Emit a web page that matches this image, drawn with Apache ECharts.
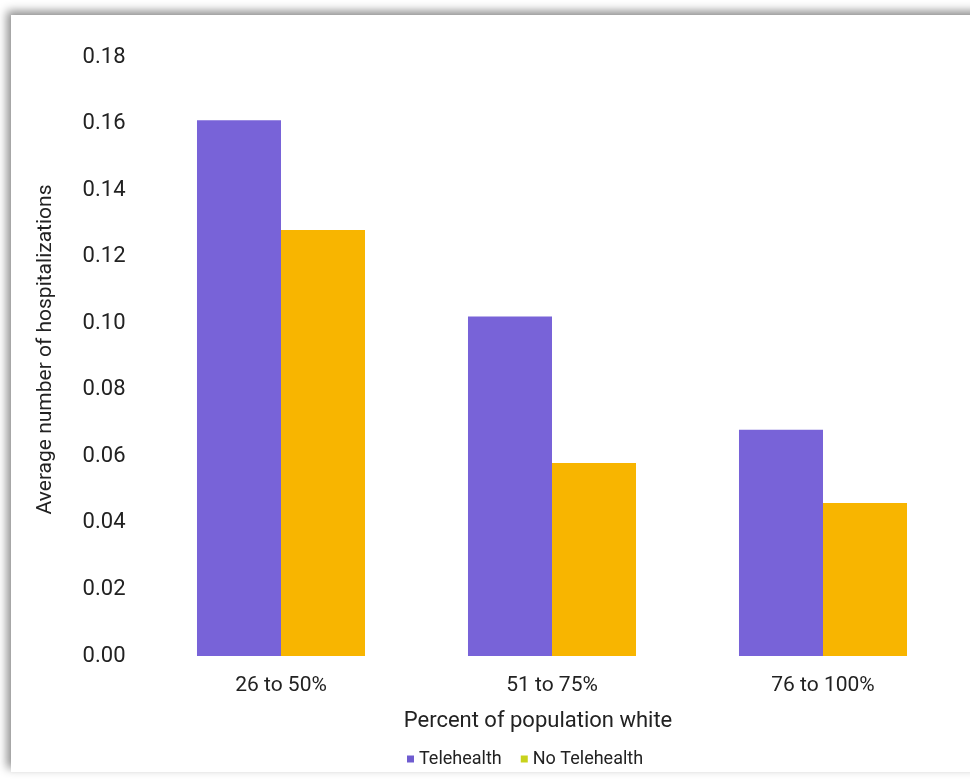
<!DOCTYPE html>
<html>
<head>
<meta charset="utf-8">
<script src="https://cdn.jsdelivr.net/npm/echarts@6/dist/echarts.min.js"></script>
<style>
  html, body { margin: 0; padding: 0; width: 970px; height: 783px; background: #fff; overflow: hidden; }
  #frame {
    position: absolute; left: 11px; top: 15px; width: 980px; height: 757px;
    background: #fff;
    box-shadow: -4px -4px 9px rgba(0,0,0,0.45);
  }
  #chart { position: absolute; left: 0; top: 0; width: 970px; height: 783px; }
</style>
</head>
<body>
<div id="frame"></div>
<div id="chart"></div>
<script>
// Average hospitalizations by share of white population
const categories = ['26 to 50%', '51 to 75%', '76 to 100%'];
const telehealth = [0.161, 0.102, 0.068];
const noTelehealth = [0.128, 0.058, 0.046];
const yTicks = [0, 0.02, 0.04, 0.06, 0.08, 0.10, 0.12, 0.14, 0.16, 0.18];

const FONT = 'Roboto, "Noto Sans", sans-serif';
const PURPLE = '#7863d8';
const ORANGE = '#f8b500';

const chart = echarts.init(document.getElementById('chart'), null, { renderer: 'canvas' });
chart.setOption({
  backgroundColor: 'transparent',
  animation: false,
  textStyle: { fontFamily: FONT },
  grid: { left: 145.5, right: 11.5, top: 57, bottom: 127 },
  legend: {
    bottom: 10,
    left: 402,
    itemWidth: 7,
    itemHeight: 7,
    itemGap: 19,
    icon: 'rect',
    textStyle: { fontFamily: FONT, fontSize: 18, color: '#222' },
    data: [
      { name: 'Telehealth', itemStyle: { color: '#6f5cd0' } },
      { name: 'No Telehealth', itemStyle: { color: '#c8d21c' } }
    ]
  },
  xAxis: {
    type: 'category',
    data: categories,
    name: 'Percent of population white',
    nameLocation: 'middle',
    nameGap: 54,
    nameTextStyle: { fontFamily: FONT, fontSize: 22, color: '#222', padding: [0, 28, 0, 0] },
    axisLine: { show: false },
    axisTick: { show: false },
    axisLabel: { fontFamily: FONT, fontSize: 21, color: '#222', margin: 19 }
  },
  yAxis: {
    type: 'value',
    min: yTicks[0],
    max: yTicks[yTicks.length - 1],
    interval: 0.02,
    name: 'Average number of hospitalizations',
    nameLocation: 'middle',
    nameGap: 89,
    nameTextStyle: { fontFamily: FONT, fontSize: 21, color: '#222', padding: [0, 0, 0, 14] },
    axisLine: { show: false },
    axisTick: { show: false },
    splitLine: { show: false },
    axisLabel: {
      fontFamily: FONT, fontSize: 22, color: '#222', margin: 20,
      formatter: v => v.toFixed(2)
    }
  },
  series: [
    {
      name: 'Telehealth', type: 'bar', data: telehealth,
      barGap: '0%', barCategoryGap: '38%',
      itemStyle: { color: PURPLE }
    },
    {
      name: 'No Telehealth', type: 'bar', data: noTelehealth,
      itemStyle: { color: ORANGE }
    }
  ]
});
</script>
</body>
</html>
